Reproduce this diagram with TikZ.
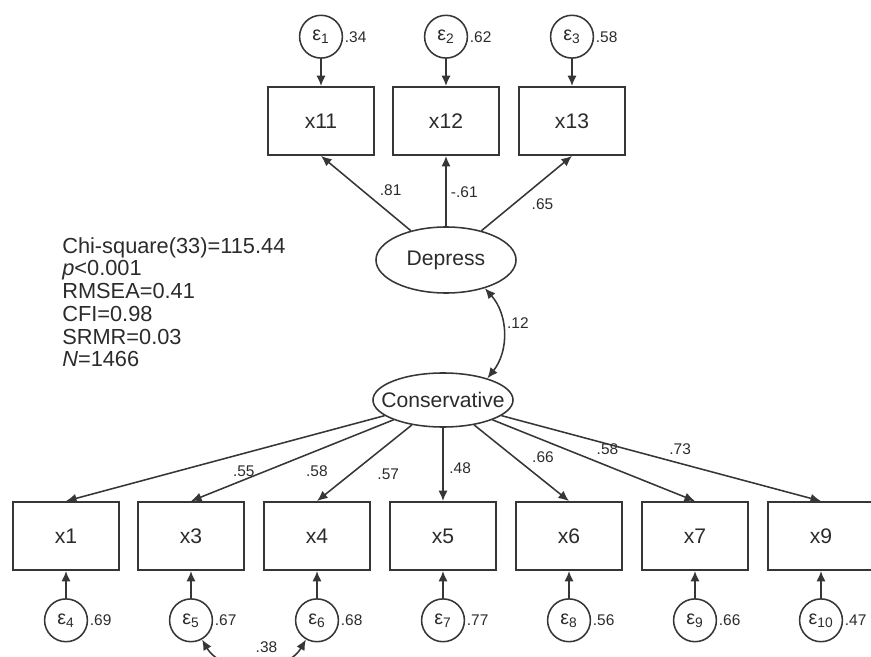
\documentclass[tikz,border=0pt]{standalone}
\usepackage{fontspec}
\setmainfont{Liberation Sans}
\usetikzlibrary{positioning,arrows.meta,shapes.geometric}
\definecolor{LineGray}{HTML}{363636}
\definecolor{TextGray}{HTML}{2B2B2B}

\begin{document}
\begin{tikzpicture}[x=0.025cm,y=-0.025cm,node distance=.68cm,>={Latex[length=7.5pt,width=6.5pt]},
    obs/.style={draw=LineGray,line width=1.3pt,minimum width=2.63cm,minimum height=1.7cm,text=TextGray,font=\fontsize{15}{18}\selectfont},
    lat/.style={draw=LineGray,line width=1.1pt,ellipse,inner sep=0pt,minimum width=3.5cm,text=TextGray,font=\fontsize{15}{18}\selectfont},
    err/.style={draw=LineGray,line width=1.1pt,circle,inner sep=0pt,minimum size=1.07cm,text=TextGray,font=\fontsize{14}{16}\selectfont},
    lbl/.style={text=TextGray,inner sep=3pt,font=\fontsize{11}{13}\selectfont},
    link/.style={->,draw=LineGray,line width=1.1pt}]
  \useasboundingbox (0,0) rectangle (871,657);

  % depression indicators
  \node[obs] (x11) at (321,121) {x11};
  \node[obs] (x12) at (446,121) {x12};
  \node[obs] (x13) at (572,121) {x13};
  \node[err,above=of x11,label={[lbl,inner sep=1pt]right:.34}] (e1) {ε\textsubscript{1}};
  \node[err,above=of x12,label={[lbl,inner sep=1pt]right:.62}] (e2) {ε\textsubscript{2}};
  \node[err,above=of x13,label={[lbl,inner sep=1pt]right:.58}] (e3) {ε\textsubscript{3}};

  % latent factors
  \node[lat,minimum height=1.65cm] (dep) at (446,260) {Depress};
  \node[lat,minimum height=1.35cm] (cons) at (443,400) {\makebox[0pt]{Conservative}};

  % conservatism indicators
  \node[obs] (x1) at (66,536) {x1};
  \node[obs] (x3) at (191,536) {x3};
  \node[obs] (x4) at (317,536) {x4};
  \node[obs] (x5) at (443,536) {x5};
  \node[obs] (x6) at (569,536) {x6};
  \node[obs] (x7) at (695,536) {x7};
  \node[obs] (x9) at (821,536) {x9};
  \node[err,below=of x1,label={[lbl,inner sep=1pt]right:.69}] (e4) {ε\textsubscript{4}};
  \node[err,below=of x3,label={[lbl,inner sep=1pt]right:.67}] (e5) {ε\textsubscript{5}};
  \node[err,below=of x4,label={[lbl,inner sep=1pt]right:.68}] (e6) {ε\textsubscript{6}};
  \node[err,below=of x5,label={[lbl,inner sep=1pt]right:.77}] (e7) {ε\textsubscript{7}};
  \node[err,below=of x6,label={[lbl,inner sep=1pt]right:.56}] (e8) {ε\textsubscript{8}};
  \node[err,below=of x7,label={[lbl,inner sep=1pt]right:.66}] (e9) {ε\textsubscript{9}};
  \node[err,below=of x9,label={[lbl,inner sep=1pt]right:.47}] (e10) {ε\textsubscript{10}};

  % fit statistics
  \node[anchor=north west,inner sep=0pt,align=left,text=TextGray,font=\fontsize{15.5}{16.2}\selectfont] (fit) at (62,237)
    {Chi-square(33)=115.44\\\textit{p}<0.001\\RMSEA=0.41\\CFI=0.98\\SRMR=0.03\\\textit{N}=1466};

  % error terms
  \draw[link] (e1) -- (x11);
  \draw[link] (e2) -- (x12);
  \draw[link] (e3) -- (x13);
  \draw[link] (e4) -- (x1);
  \draw[link] (e5) -- (x3);
  \draw[link] (e6) -- (x4);
  \draw[link] (e7) -- (x5);
  \draw[link] (e8) -- (x6);
  \draw[link] (e9) -- (x7);
  \draw[link] (e10) -- (x9);

  % loadings
  \draw[link] (dep) -- node[lbl,auto=right,pos=.4] {.81} (x11.south);
  \draw[link] (dep) -- node[lbl,auto=right,pos=.49] {-.61} (x12.south);
  \draw[link] (dep) -- node[lbl,auto=right,pos=.5] {.65} (x13.south);
  \draw[link] (cons) -- node[lbl,auto,pos=.50,inner sep=5pt] {.55} (x1.north);
  \draw[link] (cons) -- node[lbl,auto,pos=.47,inner sep=5pt] {.58} (x3.north);
  \draw[link] (cons) -- node[lbl,auto,pos=.46,inner sep=6pt] {.57} (x4.north);
  \draw[link] (cons) -- node[lbl,auto,pos=.55,inner sep=4pt] {.48} (x5.north);
  \draw[link] (cons) -- node[lbl,auto,pos=.56] {.66} (x6.north);
  \draw[link] (cons) -- node[lbl,auto,pos=.49] {.58} (x7.north);
  \draw[link] (cons) -- node[lbl,auto,pos=.51] {.73} (x9.north);

  % covariances
  \draw[link,<->] (dep.-36) to[bend left=40] node[lbl,right,pos=.4] {.12} (cons.26);
  \draw[link,<->] (e5.-60) to[bend right=60] node[lbl,above=5pt,pos=.6] {.38} (e6.-120);
\end{tikzpicture}
\end{document}
